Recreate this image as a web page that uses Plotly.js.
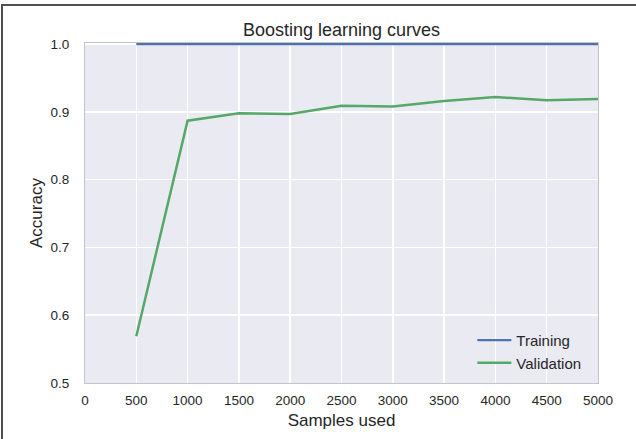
<!DOCTYPE html>
<html>
<head>
<meta charset="utf-8">
<script src="https://cdn.plot.ly/plotly-3.0.1.min.js"></script>
<style>
  html, body { margin: 0; padding: 0; background: #fff; }
  #wrap { position: relative; width: 636px; height: 439px; overflow: hidden; }
  #chart { position: absolute; left: 0; top: 0; width: 636px; height: 439px; }
  #frame { position: absolute; left: 1px; top: 4px; width: 640px; height: 440px;
           border-top: 2px solid #505050; border-left: 2px solid #505050; pointer-events: none; }
</style>
</head>
<body>
<div id="wrap">
  <div id="chart"></div>
  <div id="frame"></div>
</div>
<script>
const samples = [500, 1000, 1500, 2000, 2500, 3000, 3500, 4000, 4500, 5000];
const trainingAcc = [1.0, 1.0, 1.0, 1.0, 1.0, 1.0, 1.0, 1.0, 1.0, 1.0];
const validationAcc = [0.569, 0.887, 0.898, 0.897, 0.909, 0.908, 0.916, 0.922, 0.917, 0.919];
const xTicks = [0, 500, 1000, 1500, 2000, 2500, 3000, 3500, 4000, 4500, 5000];
const yTicks = [0.5, 0.6, 0.7, 0.8, 0.9, 1.0];

const traces = [
  { x: samples, y: trainingAcc, name: 'Training', mode: 'lines',
    line: { color: '#4C72B0', width: 2.2 } },
  { x: samples, y: validationAcc, name: 'Validation', mode: 'lines',
    line: { color: '#55A868', width: 2.5 } }
];

const layout = {
  width: 636, height: 439,
  margin: { l: 85, r: 38, t: 43, b: 56 },
  paper_bgcolor: '#ffffff',
  plot_bgcolor: '#EAEAF2',
  font: { family: 'Liberation Sans, Arial, sans-serif', color: '#262626', size: 13.5 },
  title: { text: 'Boosting learning curves', font: { size: 18, color: '#262626' },
           x: 0.5, xref: 'paper', xanchor: 'center', y: 1, yref: 'paper', yanchor: 'bottom', pad: { b: 7 } },
  xaxis: {
    range: [0, 5000], tickvals: xTicks, ticktext: xTicks.map(String),
    showgrid: true, gridcolor: '#ffffff', gridwidth: 1.5, zeroline: false,
    showline: true, linecolor: '#c4c4c4', linewidth: 1, mirror: true, layer: 'below traces',
    ticks: 'outside', ticklen: 5, tickcolor: 'rgba(0,0,0,0)',
    tickfont: { size: 13.5, color: '#262626' },
    title: { text: 'Samples used', font: { size: 17, color: '#262626' }, standoff: 6 }
  },
  yaxis: {
    range: [0.5, 1.0016], tickvals: yTicks, ticktext: yTicks.map(v => v.toFixed(1)),
    showgrid: true, gridcolor: '#ffffff', gridwidth: 1.5, zeroline: false,
    showline: true, linecolor: '#c4c4c4', linewidth: 1, mirror: true, layer: 'below traces',
    ticks: 'outside', ticklen: 12, tickcolor: 'rgba(0,0,0,0)',
    tickfont: { size: 13.5, color: '#262626' },
    title: { text: 'Accuracy', font: { size: 17, color: '#262626' }, standoff: 3 }
  },
  showlegend: true,
  legend: {
    x: 0.755, y: 0.012, xanchor: 'left', yanchor: 'bottom',
    bgcolor: 'rgba(0,0,0,0)', borderwidth: 0,
    font: { size: 15, color: '#262626' }, itemwidth: 34, tracegroupgap: 0
  }
};

Plotly.newPlot('chart', traces, layout, { displayModeBar: false, staticPlot: true });
</script>
</body>
</html>
